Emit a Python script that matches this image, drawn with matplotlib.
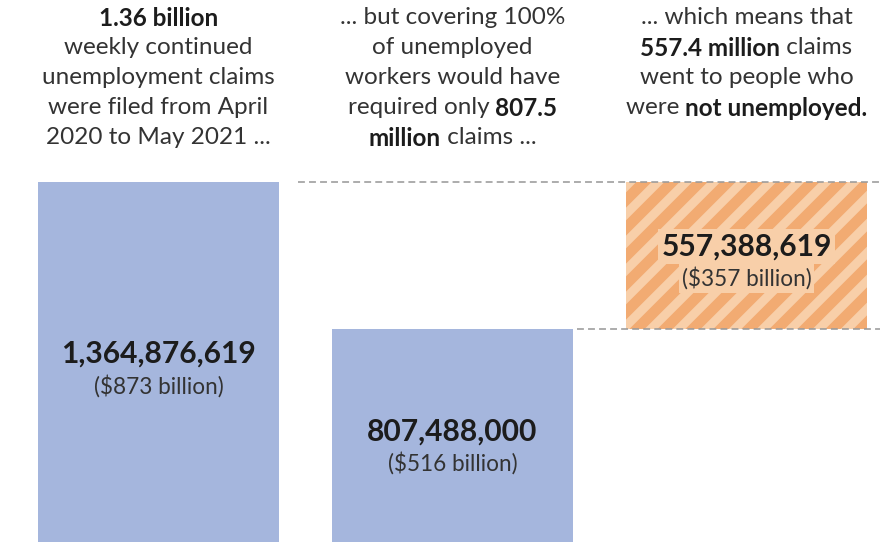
import matplotlib
matplotlib.use("Agg")
import matplotlib.pyplot as plt

DPI = 84  # hatch spacing follows dpi: 84/6 = 14 px stripes, as in the reference
pt = lambda px: px * 72 / DPI

plt.rcParams.update({"font.family": ["Lato", "DejaVu Sans"], "hatch.linewidth": pt(9)})

# data
totals = [1364876619, 807488000]
excess = totals[0] - totals[1]
bar_values = [totals[0], totals[1], excess]
bar_bottoms = [0, 0, totals[1]]
bar_labels = ["1,364,876,619", "807,488,000", "557,388,619"]
money_labels = ["($873 billion)", "($516 billion)", "($357 billion)"]
headers = [
    [[("1.36 billion", "bold")], [("weekly continued", "normal")], [("unemployment claims", "normal")],
     [("were filed from April", "normal")], [("2020 to May 2021 ...", "normal")]],
    [[("... but covering 100%", "normal")], [("of unemployed", "normal")], [("workers would have", "normal")],
     [("required only ", "normal"), ("807.5", "bold")], [("million", "bold"), (" claims ...", "normal")]],
    [[("... which means that", "normal")], [("557.4 million", "bold"), (" claims", "normal")],
     [("went to people who", "normal")], [("were ", "normal"), ("not unemployed.", "bold")]],
]

BLUE = "#a5b6dd"; ORANGE = "#f2ab72"; LIGHT = "#f8cfa9"; DARK = "#1c1c1c"; GREY = "#333333"
fig = plt.figure(figsize=(881 / DPI, 542 / DPI), dpi=DPI)
ax = fig.add_axes([0, 0, 1, 1])
xs = [0, 1, 2]
W = 241 / 294
ymax = totals[0] * 542 / 360
ax.set_xlim(-158.5 / 294, (881 - 158.5) / 294)
ax.set_ylim(0, ymax)
ax.axis("off")

ax.bar(xs[:2], bar_values[:2], bottom=bar_bottoms[:2], width=W, color=BLUE, lw=0)
ax.bar(xs[2], bar_values[2], bottom=bar_bottoms[2], width=W, facecolor=ORANGE,
       edgecolor=LIGHT, hatch="/", lw=0)

dash = dict(color="#9a9a9a", lw=pt(1.6), ls=(0, (4.3, 2.6)))
ax.plot([xs[0] + W / 2 + 0.065, ax.get_xlim()[1]], [totals[0]] * 2, **dash)
ax.plot([xs[1] + W / 2 + 0.014, ax.get_xlim()[1]], [totals[1]] * 2, **dash)

offsets = [8, 4, 9]
for i, x in enumerate(xs):
    mid = bar_bottoms[i] + bar_values[i] / 2
    box = dict(boxstyle="square,pad=0.12", fc=LIGHT, ec="none") if i == 2 else None
    ax.annotate(bar_labels[i], (x, mid), xytext=(0, pt(offsets[i])), textcoords="offset points",
                ha="center", va="center", fontsize=pt(30), fontweight="bold", color=DARK, bbox=box)
    ax.annotate(money_labels[i], (x, mid), xytext=(0, pt(offsets[i] - 32)),
                textcoords="offset points", ha="center", va="center", fontsize=pt(22.5),
                color=GREY, bbox=box)

# header text with mixed weights, centred per line
fig.canvas.draw()
r = fig.canvas.get_renderer()
for col, lines in enumerate(headers):
    cx = 158.5 + 294 * col
    for j, parts in enumerate(lines):
        ypx = 542 - (18 + 30 * j)
        objs = [fig.text(0, ypx / 542, t, fontsize=pt(24.3), fontweight=w,
                         color=DARK if w == "bold" else GREY, va="center", ha="left") for t, w in parts]
        widths = [o.get_window_extent(r).width for o in objs]
        x0 = cx - sum(widths) / 2
        for o, w in zip(objs, widths):
            o.set_x(x0 / 881)
            x0 += w

fig.savefig("out.png", dpi=DPI)
